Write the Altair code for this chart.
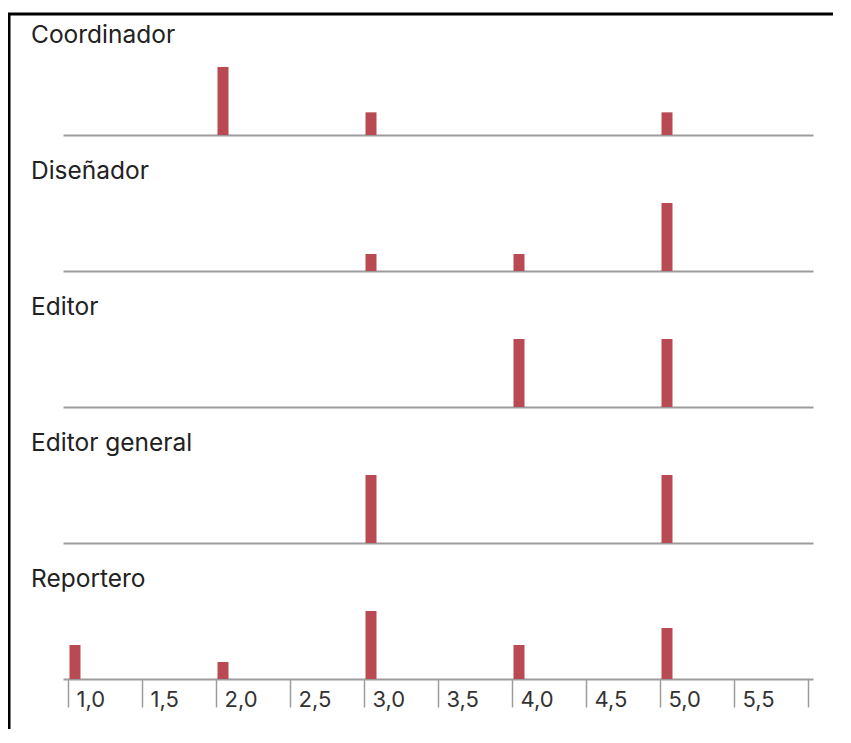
import altair as alt
import pandas as pd

# ---- data ----
roles = ["Coordinador", "Diseñador", "Editor", "Editor general", "Reportero"]

coordinador_scores = [2.0, 3.0, 5.0]
coordinador_counts = [3, 1, 1]

disenador_scores = [3.0, 4.0, 5.0]
disenador_counts = [1, 1, 4]

editor_scores = [4.0, 5.0]
editor_counts = [1, 1]

editor_general_scores = [3.0, 5.0]
editor_general_counts = [1, 1]

reportero_scores = [1.0, 2.0, 3.0, 4.0, 5.0]
reportero_counts = [2, 1, 4, 2, 3]

tick_values = [1.0, 1.5, 2.0, 2.5, 3.0, 3.5, 4.0, 4.5, 5.0, 5.5, 6.0]

series = {
    "Coordinador": (coordinador_scores, coordinador_counts),
    "Diseñador": (disenador_scores, disenador_counts),
    "Editor": (editor_scores, editor_counts),
    "Editor general": (editor_general_scores, editor_general_counts),
    "Reportero": (reportero_scores, reportero_counts),
}

rows = []
for r in roles:
    s, c = series[r]
    for a, b in zip(s, c):
        rows.append({"rol": r, "puntaje": a, "n": b})
df = pd.DataFrame(rows)

BAR = "#b94a53"
AXIS = "#9c9c9c"
FONT = "Inter"

label_expr = "datum.value >= 6 ? '' : replace(format(datum.value, '.1f'), '.', ',')"


def panel(role, first, last):
    base = alt.Chart(df).transform_filter(alt.datum.rol == role)
    axis = alt.Axis(
        values=tick_values,
        title=None,
        grid=False,
        domainColor=AXIS,
        domainWidth=2,
        ticks=last,
        labels=last,
        tickColor=AXIS,
        tickWidth=1.5,
        tickSize=28,
        labelAlign="left",
        labelBaseline="alphabetic",
        labelPadding=-1,
        labelOffset=8,
        labelFont=FONT,
        labelFontSize=22,
        labelColor="#333333",
        labelExpr=label_expr,
    )
    bars = base.mark_bar(width=11, xOffset=7, color=BAR).encode(
        x=alt.X("puntaje:Q", scale=alt.Scale(domain=[1, 6], nice=False, zero=False), axis=axis),
        y=alt.Y("n:Q", axis=None, scale=alt.Scale(nice=False, zero=True)),
    )
    label = alt.Chart(pd.DataFrame({"rol": [role]})).mark_text(
        align="left", baseline="alphabetic", font=FONT, fontSize=24.5,
        color="#222222", clip=False
    ).encode(text="rol:N", x=alt.value(-32), y=alt.value(-24))
    layers = [bars, label]
    if first:
        one = alt.Chart(pd.DataFrame({"k": [0]}))
        top_line = one.mark_rule(color="black", strokeWidth=3, clip=False).encode(
            x=alt.value(-55), x2=alt.value(770), y=alt.value(-53)
        )
        left_line = one.mark_rule(color="black", strokeWidth=3, clip=False).encode(
            x=alt.value(-54), y=alt.value(-54), y2=alt.value(662)
        )
        layers += [top_line, left_line]
    return alt.layer(*layers).properties(width=750, height=68)


panels = [panel(r, i == 0, i == len(roles) - 1) for i, r in enumerate(roles)]

chart = (
    alt.vconcat(*panels, spacing=68, bounds="flush")
    .resolve_scale(y="independent")
    .properties(padding={"left": -2, "top": 3, "right": 0, "bottom": 0}, background="white")
    .configure_view(stroke=None)
)

chart.save("out.html", embed_options={"renderer": "svg", "actions": False})
